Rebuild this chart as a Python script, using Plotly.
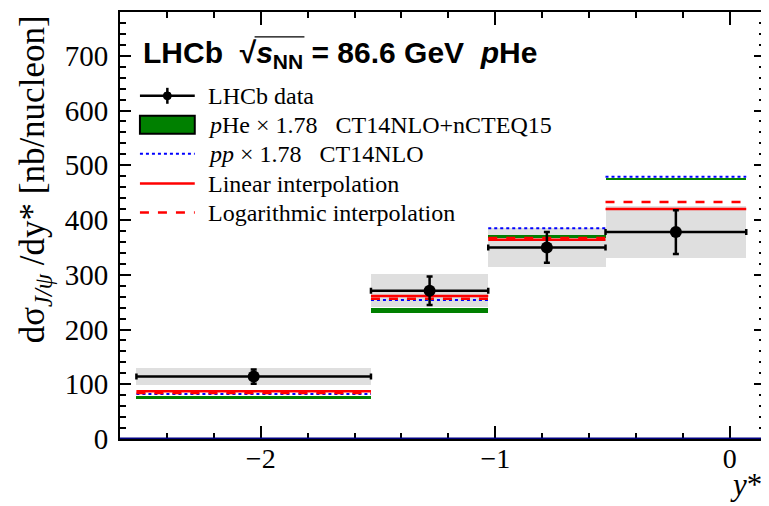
import plotly.graph_objects as go

# ---------------- data ----------------
bin_lo = [-2.53, -1.53, -1.03, -0.53]
bin_hi = [-1.53, -1.03, -0.53, 0.07]
lhcb_val = [114, 271, 350, 378]
lhcb_stat = [13, 26, 28, 40]
lhcb_tot = [16, 30, 35, 47]
phe_val = [76, 235, 370, 475]
phe_err = [2.5, 4, 3, 2.5]
pp_val = [82, 254, 385, 479]
lin_val = [87, 261, 364, 420]
log_val = [84, 256, 367, 433]
x_ticks = [-2, -1, 0]
y_ticks = [0, 100, 200, 300, 400, 500, 600, 700]

centers = [(a + b) / 2 for a, b in zip(bin_lo, bin_hi)]
widths = [b - a for a, b in zip(bin_lo, bin_hi)]
halfw = [w / 2 for w in widths]


def steps(vals):
    xs, ys = [], []
    for a, b, v in zip(bin_lo, bin_hi, vals):
        xs += [a, b, None]
        ys += [v, v, None]
    return xs, ys


fig = go.Figure()

# total uncertainty bands (grey)
fig.add_trace(go.Bar(
    x=centers, y=[2 * e for e in lhcb_tot],
    base=[v - e for v, e in zip(lhcb_val, lhcb_tot)],
    width=widths,
    marker=dict(color="#dfdfdf", line=dict(width=0)),
    showlegend=False, hoverinfo="skip"))

# pHe band (green)
fig.add_trace(go.Bar(
    x=centers, y=[2 * e for e in phe_err],
    base=[v - e for v, e in zip(phe_val, phe_err)],
    width=widths, marker=dict(color="#008000", line=dict(width=0)),
    showlegend=False, hoverinfo="skip"))

xs, ys = steps(pp_val)
fig.add_trace(go.Scatter(x=xs, y=ys, mode="lines",
                         line=dict(color="#0000ff", width=2, dash="dot"),
                         showlegend=False, hoverinfo="skip"))
xs, ys = steps(lin_val)
fig.add_trace(go.Scatter(x=xs, y=ys, mode="lines",
                         line=dict(color="#ff0000", width=2.5),
                         showlegend=False, hoverinfo="skip"))
xs, ys = steps(log_val)
fig.add_trace(go.Scatter(x=xs, y=ys, mode="lines",
                         line=dict(color="#ff0000", width=2.5, dash="dash"),
                         showlegend=False, hoverinfo="skip"))

# LHCb data
fig.add_trace(go.Scatter(
    x=centers, y=lhcb_val, mode="markers",
    marker=dict(color="black", size=12, symbol="circle"),
    error_y=dict(type="data", array=lhcb_stat, color="black", thickness=2.5, width=3),
    error_x=dict(type="data", array=halfw, color="black", thickness=2.5, width=3),
    showlegend=False))

# ---------------- layout helpers ----------------
# the page body has an 8px margin; compensate so the figure lands where the reference is
OFF = 8
W, H = 769 - OFF, 506 - OFF
# plot frame in reference (window) pixel coordinates
P_L, P_R, P_T, P_B = 120, 767, 11, 439


def fx(px):
    return (px - P_L) / (P_R - P_L)


def fy(py):
    return (P_B - py) / (P_B - P_T)


shapes = []
annotations = []

# baseline (blue) at zero
shapes.append(dict(type="line", xref="paper", yref="y", x0=0, x1=1, y0=0, y1=0,
                   line=dict(color="#000080", width=3), layer="above"))

# legend
leg_x0, leg_x1 = 140, 195
rows = [95, 124, 153, 183, 212]
shapes.append(dict(type="line", xref="paper", yref="paper", x0=fx(leg_x0), x1=fx(leg_x1),
                   y0=fy(rows[0]), y1=fy(rows[0]), line=dict(color="black", width=2.5)))
shapes.append(dict(type="line", xref="paper", yref="paper", x0=fx(167.5), x1=fx(167.5),
                   y0=fy(rows[0] - 8), y1=fy(rows[0] + 8), line=dict(color="black", width=2.5)))
shapes.append(dict(type="circle", xref="paper", yref="paper", x0=fx(163.5), x1=fx(171.5),
                   y0=fy(rows[0] - 4), y1=fy(rows[0] + 4), fillcolor="black",
                   line=dict(color="black", width=1)))
shapes.append(dict(type="rect", xref="paper", yref="paper", x0=fx(leg_x0), x1=fx(leg_x1),
                   y0=fy(rows[1] - 9), y1=fy(rows[1] + 9), fillcolor="#008000",
                   line=dict(color="black", width=2)))
shapes.append(dict(type="line", xref="paper", yref="paper", x0=fx(leg_x0), x1=fx(leg_x1),
                   y0=fy(rows[2]), y1=fy(rows[2]), line=dict(color="#0000ff", width=2, dash="dot")))
shapes.append(dict(type="line", xref="paper", yref="paper", x0=fx(leg_x0), x1=fx(leg_x1),
                   y0=fy(rows[3]), y1=fy(rows[3]), line=dict(color="#ff0000", width=2.5)))
shapes.append(dict(type="line", xref="paper", yref="paper", x0=fx(leg_x0), x1=fx(leg_x1),
                   y0=fy(rows[4]), y1=fy(rows[4]), line=dict(color="#ff0000", width=2.5, dash="dash")))

leg_texts = [
    "LHCb data",
    "<i>p</i>He \u00d7 1.78   CT14NLO+nCTEQ15",
    "<i>pp</i> \u00d7 1.78   CT14NLO",
    "Linear interpolation",
    "Logarithmic interpolation",
]
serif = "Liberation Serif, Times New Roman, serif"
for t, r in zip(leg_texts, rows):
    annotations.append(dict(text=t, xref="paper", yref="paper", x=fx(206), y=fy(r),
                            xanchor="left", yanchor="middle", showarrow=False,
                            font=dict(family=serif, size=24, color="black")))

# title text
annotations.append(dict(
    text="<b>LHCb  \u221a<i>s</i><sub>NN</sub> = 86.6 GeV  <i>p</i>He</b>",
    xref="paper", yref="paper", x=fx(141), y=fy(54), xanchor="left", yanchor="middle",
    showarrow=False, font=dict(family="Liberation Sans, Arial, sans-serif", size=30, color="black")))
shapes.append(dict(type="line", xref="paper", yref="paper", x0=fx(255), x1=fx(305),
                   y0=fy(36), y1=fy(36), line=dict(color="black", width=1.2)))

# axis titles
annotations.append(dict(
    text="d\u03c3<sub><i>J/\u03c8</i></sub> /dy* [nb/nucleon]",
    xref="paper", yref="paper", x=fx(35), y=fy(12), xanchor="center", yanchor="top",
    textangle=-90, showarrow=False, font=dict(family=serif, size=35, color="black")))
annotations.append(dict(
    text="<i>y</i>*", xref="paper", yref="paper", x=fx(766), y=fy(465),
    xanchor="right", yanchor="top", showarrow=False,
    font=dict(family=serif, size=31, color="black")))

fig.update_layout(
    width=W, height=H,
    margin=dict(l=P_L - OFF, r=W - (P_R - OFF), t=P_T - OFF, b=H - (P_B - OFF), pad=0),
    paper_bgcolor="white", plot_bgcolor="white",
    barmode="overlay", bargap=0,
    showlegend=False,
    shapes=shapes, annotations=annotations,
    font=dict(family=serif, color="black"),
)
fig.update_xaxes(
    range=[-2.6, 0.15], tickvals=x_ticks, ticktext=["\u22122", "\u22121", "0"],
    ticks="inside", ticklen=13, tickwidth=2, tickcolor="black",
    showline=True, linecolor="black", linewidth=2, mirror="allticks",
    showgrid=False, zeroline=False, tickfont=dict(family=serif, size=28),
    ticklabelstandoff=-7,
    minor=dict(ticks="inside", ticklen=6, tickwidth=1.5, tickcolor="black", dtick=0.2, tick0=0,
               showgrid=False))
fig.update_yaxes(
    range=[0, 780], tickvals=y_ticks,
    ticks="inside", ticklen=11, tickwidth=2, tickcolor="black",
    showline=True, linecolor="black", linewidth=2, mirror="allticks",
    showgrid=False, zeroline=False, tickfont=dict(family=serif, size=29),
    ticklabelstandoff=4,
    minor=dict(ticks="inside", ticklen=6, tickwidth=1.5, tickcolor="black", dtick=20, tick0=0,
               showgrid=False))

fig.write_html("out.html")
